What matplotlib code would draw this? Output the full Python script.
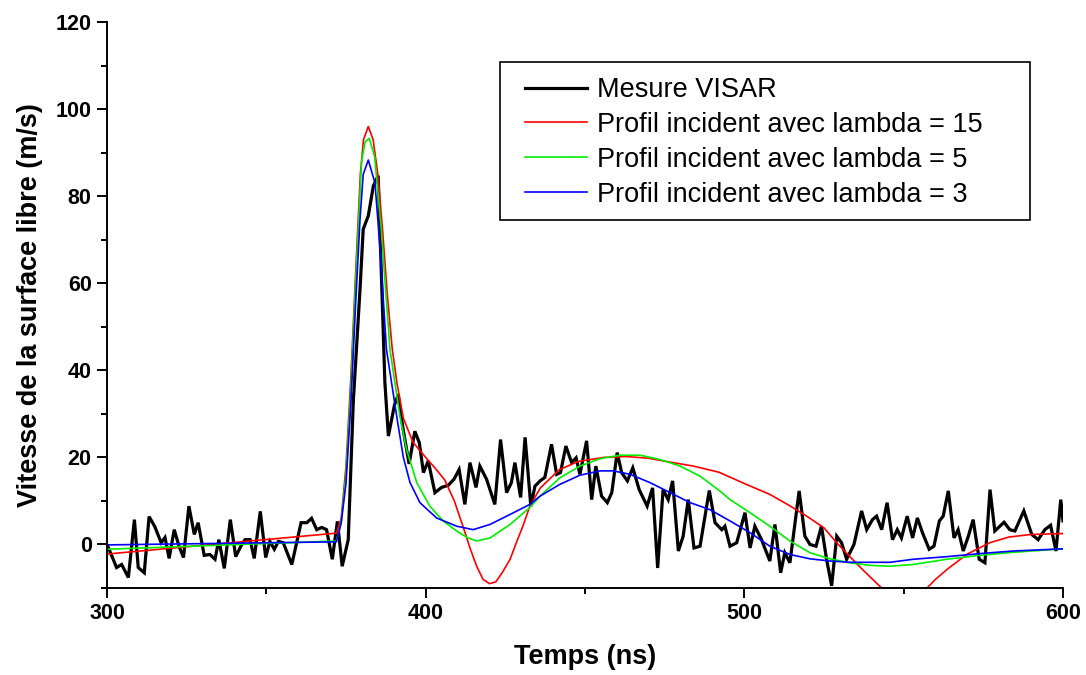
import numpy as np
import matplotlib
matplotlib.use("Agg")
import matplotlib.pyplot as plt
from matplotlib.ticker import MultipleLocator
from matplotlib.patches import Rectangle

plt.rcParams['font.family'] = ['Liberation Sans', 'DejaVu Sans']

# Mesure VISAR
t_visar = [300.3, 303, 304.6, 306.7, 308.6, 309.8, 311.7, 313.2, 315, 317, 318.2, 319.5,
           321.1, 322.6, 324, 325.7, 327.4, 328.6, 330.5, 332.3, 333.9, 335.1, 336.8, 338.7,
           340.4, 342, 343.3, 344.9, 346.2, 348.1, 349.8, 351.1, 352.5, 353.8, 355.3, 358,
           360.9, 362.7, 364.2, 365.8, 367.4, 368.9, 370.7, 372.3, 373.8, 375.7, 377.3, 379.4,
           380.4, 382, 383.6, 385.1, 386.2, 387.2, 388.3, 390.2, 391.4, 392.8, 394.8, 396.6,
           398, 399.3, 400.8, 402.9, 405, 407.1, 408.9, 410.5, 412.3, 413.9, 415.8, 417,
           419.1, 421.7, 423.5, 425.4, 426.9, 428, 429.8, 431.2, 433, 434.3, 435.9, 437.4,
           439.5, 441.1, 442.3, 444, 445.8, 447.2, 448.4, 450.5, 452.1, 453.4, 455.2, 457,
           458.4, 460.1, 461.5, 463.3, 465, 467, 469.5, 471.2, 472.8, 474.5, 476.1, 477.5,
           479.3, 480.8, 482.4, 484.2, 486.1, 489, 490.8, 492.9, 493.9, 495.5, 497.6, 500.2,
           501.8, 503.3, 505.4, 508, 509.6, 511.4, 512.7, 514.3, 517.2, 519, 520.6, 522.5,
           524.2, 525.8, 527.4, 529, 530.5, 532.1, 534.4, 536.8, 538.4, 540.2, 541.5, 543.1,
           544.8, 546.5, 548, 549.3, 551.1, 552.8, 554.3, 555.9, 558, 559.5, 561.2, 562.4,
           564, 565.8, 567.1, 568.7, 570.3, 571.8, 573.7, 575.5, 577.1, 578.6, 581.5, 583.3,
           584.9, 587.7, 590.2, 592.2, 594.3, 596.1, 597.8, 599.3, 600]
v_visar = [-0.5, -5.3, -4.6, -7.6, 5.7, -5.3, -6.5, 6.4, 4.1, 0.4, 1.6, -3.2,
           3.4, -0.4, -3, 8.8, 2.3, 5, -2.5, -2.3, -3.4, 1.1, -5.5, 5.7,
           -2.8, -0.4, 1.1, 1.1, -3.2, 7.6, -3, 0.7, -1.1, 0.7, 0.4, -4.6,
           5, 5, 6, 3.4, 3.9, 3.4, -3.4, 5.3, -5, 1.1, 33, 58.6,
           72.4, 75.5, 82.4, 84.7, 59.4, 37.2, 24.9, 32, 34.5, 27, 18.5, 26,
           23.4, 16.5, 19.2, 11.9, 13.1, 13.6, 15, 17.2, 9.2, 18.8, 13.1, 18,
           15, 9.2, 24.1, 11.9, 14.2, 18.8, 10.8, 24.6, 8.8, 13.4, 14.6, 15.4,
           23, 16.1, 16.5, 22.6, 18.8, 19.9, 16.1, 23.8, 10.3, 18, 11.1, 9.6,
           11.9, 21.1, 16.5, 14.6, 17.6, 12.6, 8.8, 13, -5.4, 12.6, 10.3, 14.6,
           -1.5, 1.9, 10.3, -0.8, -0.4, 12.4, 5, 3.4, 4.2, -0.4, 0.4, 7.3,
           -0.8, 4.2, 1.1, -3.8, 4.6, -6.5, -1.9, -4.2, 12.3, 1.9, 0, -0.4,
           4.2, -3.4, -9.5, 1.9, 0.4, -3.4, 0, 7.7, 3.4, 5.7, 6.5, 3.4,
           9.6, 1.1, 3.4, 1.5, 6.5, 1.5, 6.1, 2.7, -1.1, -0.4, 5.4, 6.5,
           12.3, 1.5, 3.4, -1.5, 1.9, 5.7, -3.4, -4.2, 12.6, 3.1, 5.1, 3.4,
           3.1, 7.7, 2.3, 1.1, 3.4, 4.4, -1.5, 10.3, 5.4]

# Profil incident, lambda = 15
t_l15 = [300, 372, 373.5, 375, 376.5, 378, 379.5, 380.5, 382, 383.5, 385, 386.5, 388,
         389.5, 391, 393, 396, 400, 403, 406, 409, 412, 414, 416, 418, 420, 422, 424,
         426.5, 428.5, 430.5, 432.7, 436, 442, 448, 456, 463, 470, 476, 484, 492, 500,
         508, 514, 520, 525, 529, 533, 537, 542.5, 548, 552, 556, 560, 564, 570, 577,
         583, 590, 600]
v_l15 = [-2.2, 2.6, 6, 18, 38, 62, 85, 93, 96, 93, 85, 72, 57,
         45, 37, 29, 23.5, 20, 17.5, 14.8, 10, 3.5, -1, -5, -8, -9, -8.6, -6.5,
         -3.4, 0.5, 4.2, 8.8, 13, 17.2, 19.1, 20, 20.2, 19.8, 19, 18, 16.6, 14,
         11.5, 9, 6.3, 3.8, 0.4, -2.7, -5.7, -9.6, -13, -13.5, -11, -8, -5.5, -2.2, 0.4,
         1.7, 2.3, 2.5]

# Profil incident, lambda = 5
t_l5 = [300, 372, 373.5, 375, 376.5, 378, 379.9, 381, 382.3, 384, 386, 388.8, 391.9,
        394, 397.2, 401.3, 405.5, 409.7, 413, 416, 420.2, 426.5, 432.7, 435.9, 442.1,
        448.4, 454.7, 461, 467.3, 473.6, 479.8, 486.1, 492.3, 495.5, 501.8, 508, 514.3,
        520.6, 526.9, 533.1, 539.4, 545.7, 553, 563.5, 573.9, 584.4, 600]
v_l5 = [-1.1, 0.8, 5, 16, 35, 60, 88, 92.5, 93.3, 89, 73, 44.8, 29.5,
        21.8, 14.2, 8.8, 5.4, 3.1, 1.6, 0.8, 1.5, 4.6, 8.5, 11.1, 15.3,
        18, 19.7, 20.5, 20.5, 19.5, 18, 15.7, 12.3, 10.3, 7.3, 4.2, 0.8,
        -1.9, -3.3, -4.2, -4.8, -5, -4.6, -3.4, -2.5, -1.8, -1.0]

# Profil incident, lambda = 3
t_l3 = [300, 372, 373.5, 375, 376.5, 378, 379.4, 380.4, 382, 384.1, 385.7, 387.7,
        390.9, 393, 395.1, 398.2, 403.4, 409.7, 414.9, 420.2, 426.5, 432.7, 435.9,
        442.1, 448.4, 454.7, 458.9, 464.2, 470.4, 476.7, 483, 489.2, 495.5, 501.8, 508,
        514.3, 520.6, 526.9, 533.1, 545.7, 553, 563.5, 573.9, 584.4, 600]
v_l3 = [-0.1, 0.6, 5, 14, 32, 55, 74.7, 85, 88.3, 83, 67.8, 44.8,
        29.5, 20, 14.2, 9.6, 6.1, 4.2, 3.4, 4.6, 6.9, 9.2, 11.1,
        13.8, 15.9, 16.9, 16.9, 16.1, 14.2, 11.9, 9.6, 8, 5.4, 2.7, -0.4,
        -2.3, -3.3, -3.8, -4.1, -4.1, -3.4, -2.8, -2.1, -1.5, -1.0]

labels = ["Mesure VISAR",
          "Profil incident avec lambda = 15",
          "Profil incident avec lambda = 5",
          "Profil incident avec lambda = 3"]

fig = plt.figure(figsize=(10.86, 6.75), dpi=100)
ax = fig.add_axes([107 / 1086, 1 - 588 / 675, 956 / 1086, 566 / 675])

ax.plot(t_visar, v_visar, color='black', lw=2.3, label=labels[0], solid_joinstyle='miter')
ax.plot(t_l15, v_l15, color='#ff0000', lw=1.2, label=labels[1])
ax.plot(t_l5, v_l5, color='#00ee00', lw=1.2, label=labels[2])
ax.plot(t_l3, v_l3, color='#0000ff', lw=1.2, label=labels[3])

ax.set_xlim(300, 600)
ax.set_ylim(-10, 120)
ax.xaxis.set_major_locator(MultipleLocator(100))
ax.xaxis.set_minor_locator(MultipleLocator(50))
ax.yaxis.set_major_locator(MultipleLocator(20))
ax.yaxis.set_minor_locator(MultipleLocator(10))

for s in ['top', 'right']:
    ax.spines[s].set_visible(False)
for s in ['left', 'bottom']:
    ax.spines[s].set_linewidth(1.4)

ax.tick_params(which='major', direction='out', length=7, width=1.4, pad=4)
ax.tick_params(which='minor', direction='out', length=4.5, width=1.4)
for lab in ax.get_xticklabels() + ax.get_yticklabels():
    lab.set_fontweight('bold')
    lab.set_fontsize(15.5)

ax.set_xlabel("Temps (ns)", fontsize=19.5, fontweight='bold', labelpad=14)
ax.set_ylabel("Vitesse de la surface libre (m/s)", fontsize=19.5, fontweight='bold', labelpad=9)

# légende sans cadre + cadre dessiné à la main
leg = ax.legend(loc='upper left', bbox_to_anchor=(525 / 1086, 1 - 77 / 675),
                bbox_transform=fig.transFigure, frameon=False, fontsize=19.5,
                handlelength=2.3, handletextpad=0.35, labelspacing=0.33,
                borderpad=0.0, borderaxespad=0.0)
fig.add_artist(Rectangle((500 / 1086, 1 - 220 / 675), 530 / 1086, 158 / 675,
                         transform=fig.transFigure, fill=False, ec='black', lw=1.2))

plt.savefig("out.png", dpi=100)
